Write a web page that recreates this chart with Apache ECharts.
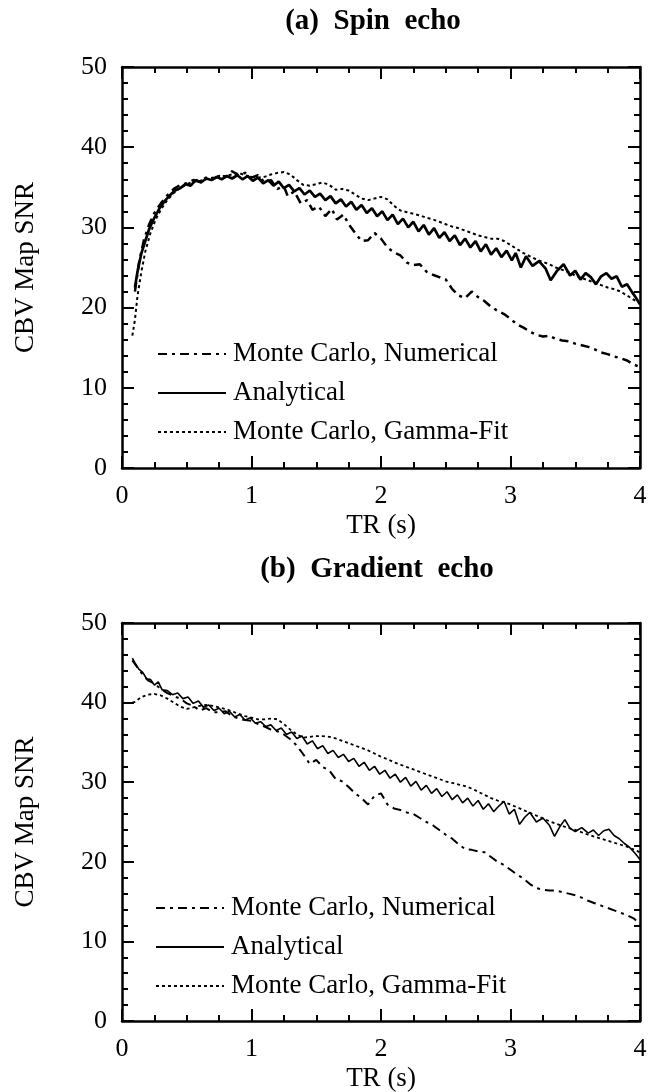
<!DOCTYPE html>
<html>
<head>
<meta charset="utf-8">
<title>CBV Map SNR vs TR</title>
<script src="https://cdn.jsdelivr.net/npm/echarts@6/dist/echarts.min.js"></script>
<style>
  html, body { margin: 0; padding: 0; background: #fff; }
  #chart { width: 650px; height: 1092px; }
</style>
</head>
<body>
<div id="chart"></div>
<script>
// panel titles and legend labels
var panelTitles = ['(a)  Spin  echo', '(b)  Gradient  echo'];
var seriesLabels = ['Monte Carlo, Numerical', 'Analytical', 'Monte Carlo, Gamma-Fit'];
var xTicks = [0, 1, 2, 3, 4];
var yTicks = [0, 10, 20, 30, 40, 50];

// (a) spin echo  [TR (s), SNR]
var spinNumerical = [[0.1,22.0],[0.13,25.5],[0.17,28.5],[0.21,30.4],[0.25,31.8],[0.3,33.0],[0.35,34.0],[0.4,34.8],[0.45,35.3],[0.5,35.5],[0.55,35.9],[0.6,35.7],[0.65,36.2],[0.7,36.0],[0.75,36.4],[0.8,36.3],[0.85,37.0],[0.9,36.5],[0.95,36.8],[1.0,36.2],[1.05,36.5],[1.1,35.6],[1.15,35.9],[1.2,34.8],[1.25,35.1],[1.28,33.9],[1.33,34.5],[1.38,33.0],[1.43,33.4],[1.47,32.2],[1.52,32.6],[1.57,31.4],[1.62,32.3],[1.66,31.0],[1.71,31.6],[1.75,30.4],[1.8,29.3],[1.85,28.3],[1.9,28.4],[1.95,29.3],[2.0,28.6],[2.05,27.5],[2.1,26.9],[2.15,26.5],[2.2,25.6],[2.25,25.3],[2.3,25.4],[2.35,24.5],[2.4,24.1],[2.45,23.8],[2.5,23.5],[2.55,22.3],[2.6,21.5],[2.65,21.2],[2.7,22.0],[2.75,21.3],[2.8,20.8],[2.85,20.1],[2.9,19.6],[2.95,19.2],[3.0,18.6],[3.05,17.9],[3.1,17.5],[3.15,17.0],[3.2,16.6],[3.25,16.4],[3.3,16.5],[3.35,16.1],[3.4,15.9],[3.45,15.8],[3.5,15.5],[3.55,15.3],[3.6,15.1],[3.65,14.8],[3.7,14.4],[3.75,14.2],[3.8,13.9],[3.85,13.7],[3.9,13.4],[3.95,12.9],[4.0,12.6]];
var spinAnalytical = [[0.1,22.5],[0.12,24.5],[0.15,26.8],[0.18,28.3],[0.21,29.8],[0.25,31.2],[0.29,32.4],[0.33,33.3],[0.37,34.0],[0.41,34.6],[0.45,34.9],[0.49,35.4],[0.53,35.2],[0.57,35.9],[0.61,35.6],[0.65,36.1],[0.69,35.9],[0.73,36.3],[0.77,36.0],[0.81,36.4],[0.85,36.1],[0.89,36.5],[0.93,36.0],[0.97,36.4],[1.01,35.8],[1.05,36.2],[1.09,35.5],[1.13,35.9],[1.17,35.2],[1.21,35.7],[1.25,34.9],[1.29,35.3],[1.33,34.5],[1.37,34.9],[1.41,34.1],[1.45,34.6],[1.49,33.8],[1.53,34.2],[1.57,33.4],[1.61,33.9],[1.65,33.0],[1.69,33.5],[1.73,32.6],[1.77,33.2],[1.81,32.2],[1.85,32.8],[1.89,31.8],[1.93,32.4],[1.97,31.4],[2.01,32.0],[2.05,30.9],[2.09,31.6],[2.13,30.4],[2.17,31.1],[2.21,30.0],[2.25,30.7],[2.29,29.5],[2.33,30.3],[2.37,29.1],[2.41,29.9],[2.45,28.7],[2.49,29.4],[2.53,28.3],[2.57,29.0],[2.61,27.8],[2.65,28.6],[2.69,27.5],[2.73,28.3],[2.77,27.0],[2.81,27.9],[2.85,26.6],[2.89,27.4],[2.93,26.3],[2.97,27.1],[3.01,25.9],[3.04,26.8],[3.08,25.0],[3.12,26.4],[3.17,25.2],[3.22,25.8],[3.27,24.9],[3.31,23.4],[3.36,24.6],[3.41,25.4],[3.46,24.0],[3.5,24.6],[3.54,23.5],[3.58,24.3],[3.62,23.8],[3.66,22.9],[3.7,23.9],[3.74,24.3],[3.78,23.6],[3.82,23.9],[3.86,22.6],[3.9,22.9],[3.94,21.9],[3.97,21.2],[4.0,20.4]];
var spinGamma = [[0.08,16.5],[0.1,18.5],[0.12,21.5],[0.15,24.5],[0.18,27.0],[0.22,29.3],[0.26,31.0],[0.3,32.2],[0.35,33.4],[0.4,34.3],[0.45,34.9],[0.5,35.4],[0.55,35.7],[0.6,35.8],[0.65,36.0],[0.7,36.2],[0.75,36.4],[0.8,36.4],[0.85,36.6],[0.9,36.8],[0.95,36.5],[1.0,36.3],[1.05,36.2],[1.1,36.3],[1.15,36.6],[1.2,36.8],[1.25,36.9],[1.3,36.6],[1.35,35.9],[1.4,35.3],[1.45,35.2],[1.5,35.4],[1.55,35.6],[1.6,35.3],[1.65,34.7],[1.7,34.8],[1.75,34.6],[1.8,34.1],[1.85,33.6],[1.9,33.4],[1.95,33.6],[2.0,33.8],[2.05,33.5],[2.1,32.7],[2.15,32.1],[2.2,31.9],[2.25,31.7],[2.3,31.5],[2.35,31.2],[2.4,31.0],[2.45,30.7],[2.5,30.4],[2.55,30.1],[2.6,29.9],[2.65,29.6],[2.7,29.3],[2.75,29.0],[2.8,28.8],[2.85,28.6],[2.9,28.6],[2.95,28.3],[3.0,27.8],[3.05,27.3],[3.1,26.8],[3.15,26.4],[3.2,26.0],[3.25,25.7],[3.3,25.4],[3.35,25.0],[3.4,24.7],[3.45,24.4],[3.5,24.0],[3.55,23.7],[3.6,23.4],[3.65,23.1],[3.7,22.8],[3.75,22.5],[3.8,22.3],[3.85,22.0],[3.9,21.5],[3.95,21.0],[4.0,20.6]];

// (b) gradient echo  [TR (s), SNR]
var gradNumerical = [[0.08,45.3],[0.12,44.4],[0.16,43.5],[0.2,42.8],[0.25,42.4],[0.3,41.7],[0.35,41.2],[0.4,40.8],[0.45,40.5],[0.5,39.9],[0.55,39.6],[0.6,39.0],[0.65,39.3],[0.7,38.8],[0.75,38.8],[0.8,38.9],[0.85,38.3],[0.9,38.0],[0.95,37.8],[1.0,37.7],[1.05,37.3],[1.1,37.0],[1.15,36.6],[1.2,36.4],[1.25,36.0],[1.3,35.4],[1.35,34.6],[1.4,33.5],[1.45,32.3],[1.5,32.8],[1.55,31.9],[1.6,31.5],[1.65,30.4],[1.7,30.1],[1.75,29.4],[1.8,28.6],[1.85,28.0],[1.9,27.2],[1.95,28.3],[2.0,28.6],[2.05,27.2],[2.1,26.7],[2.15,26.5],[2.2,26.2],[2.25,26.0],[2.3,25.5],[2.35,25.0],[2.4,24.6],[2.45,24.0],[2.5,23.4],[2.55,22.9],[2.6,22.2],[2.65,21.6],[2.7,21.5],[2.75,21.3],[2.8,21.2],[2.85,20.6],[2.9,20.0],[2.95,19.6],[3.0,19.0],[3.05,18.4],[3.1,17.9],[3.15,17.2],[3.2,16.7],[3.25,16.5],[3.3,16.4],[3.35,16.4],[3.4,16.2],[3.45,16.0],[3.5,15.8],[3.55,15.5],[3.6,15.1],[3.65,14.8],[3.7,14.5],[3.75,14.2],[3.8,13.9],[3.85,13.6],[3.9,13.3],[3.95,12.9],[4.0,12.2]];
var gradAnalytical = [[0.08,45.6],[0.1,45.0],[0.13,44.2],[0.16,43.8],[0.19,43.0],[0.22,42.9],[0.25,42.2],[0.28,42.6],[0.31,41.6],[0.35,41.5],[0.39,41.0],[0.43,41.2],[0.47,40.5],[0.51,40.7],[0.55,39.9],[0.59,40.2],[0.63,39.4],[0.67,39.7],[0.71,39.0],[0.75,39.3],[0.79,38.6],[0.83,38.9],[0.87,38.2],[0.91,38.5],[0.95,37.8],[0.99,38.1],[1.03,37.4],[1.07,37.6],[1.11,37.0],[1.15,37.2],[1.19,36.5],[1.23,36.8],[1.27,36.0],[1.31,36.3],[1.35,35.5],[1.39,35.8],[1.43,34.8],[1.47,35.2],[1.51,34.2],[1.55,34.6],[1.59,33.6],[1.63,34.0],[1.67,33.1],[1.71,33.5],[1.75,32.6],[1.79,33.0],[1.83,32.0],[1.87,32.5],[1.91,31.5],[1.95,32.0],[1.99,31.0],[2.03,31.5],[2.07,30.5],[2.11,31.0],[2.15,30.0],[2.19,30.6],[2.23,29.5],[2.27,30.1],[2.31,29.0],[2.35,29.6],[2.39,28.6],[2.43,29.2],[2.47,28.2],[2.51,28.8],[2.55,27.8],[2.59,28.4],[2.63,27.4],[2.67,28.0],[2.71,27.0],[2.75,27.7],[2.79,26.6],[2.83,27.3],[2.87,26.3],[2.91,27.0],[2.95,27.6],[2.99,26.0],[3.03,26.6],[3.07,24.7],[3.11,25.6],[3.15,26.2],[3.2,25.0],[3.25,25.5],[3.3,24.6],[3.34,23.2],[3.38,24.4],[3.42,25.3],[3.46,24.2],[3.5,23.8],[3.55,24.3],[3.6,23.6],[3.64,24.0],[3.68,23.3],[3.72,23.9],[3.76,24.1],[3.8,23.3],[3.84,22.9],[3.88,22.3],[3.92,21.8],[3.96,21.1],[4.0,20.3]];
var gradGamma = [[0.08,40.0],[0.1,40.1],[0.15,40.7],[0.2,41.0],[0.25,41.1],[0.3,40.9],[0.35,40.5],[0.4,40.0],[0.45,39.5],[0.5,39.2],[0.55,39.4],[0.6,39.6],[0.65,39.7],[0.7,39.6],[0.75,39.4],[0.8,39.2],[0.85,38.9],[0.9,38.6],[0.95,38.3],[1.0,38.1],[1.05,37.9],[1.1,37.9],[1.15,38.0],[1.2,37.9],[1.25,37.3],[1.3,36.6],[1.35,36.0],[1.4,35.6],[1.45,35.7],[1.5,35.8],[1.55,35.8],[1.6,35.7],[1.65,35.5],[1.7,35.2],[1.75,34.9],[1.8,34.6],[1.85,34.3],[1.9,34.0],[1.95,33.6],[2.0,33.2],[2.05,32.9],[2.1,32.5],[2.15,32.2],[2.2,31.9],[2.25,31.6],[2.3,31.3],[2.35,31.0],[2.4,30.7],[2.45,30.4],[2.5,30.1],[2.55,29.9],[2.6,29.7],[2.65,29.5],[2.7,29.2],[2.75,28.8],[2.8,28.4],[2.85,28.0],[2.9,27.7],[2.95,27.5],[3.0,27.2],[3.1,26.5],[3.2,25.8],[3.3,25.1],[3.4,24.5],[3.5,24.0],[3.6,23.4],[3.7,22.9],[3.8,22.4],[3.9,21.9],[4.0,21.2]];

var FONT = '"Liberation Serif", "Times New Roman", serif';
var myChart = echarts.init(document.getElementById('chart'), null, { renderer: 'canvas' });

var grids = [
    { left: 122, right: 10, top: 67, height: 401, outerBoundsMode: 'none', containLabel: false },
    { left: 122, right: 10, top: 623, height: 398, outerBoundsMode: 'none', containLabel: false }
];

var black = '#000';
function tickStyles(split) {
    return {
        axisTick: { show: true, inside: true, length: 12, lineStyle: { color: black, width: 2 } },
        minorTick: { show: true, splitNumber: split, length: 6, lineStyle: { color: black, width: 2 } }
    };
}

function xAxisFor(g, isTop) {
    var t = tickStyles(4);
    return {
        type: 'value', gridIndex: g, position: isTop ? 'top' : 'bottom',
        min: xTicks[0], max: xTicks[xTicks.length - 1], interval: 1,
        name: isTop ? '' : 'TR (s)', nameLocation: 'middle', nameGap: 44,
        nameTextStyle: { color: black, fontFamily: FONT, fontSize: 27 },
        axisLine: { show: true, onZero: false, lineStyle: { color: black, width: 2.5 } },
        axisTick: t.axisTick, minorTick: t.minorTick,
        axisLabel: { show: !isTop, color: black, fontFamily: FONT, fontSize: 26, margin: 15 },
        splitLine: { show: false }, minorSplitLine: { show: false }
    };
}
function yAxisFor(g, isRight) {
    var t = tickStyles(5);
    return {
        type: 'value', gridIndex: g, position: isRight ? 'right' : 'left',
        min: yTicks[0], max: yTicks[yTicks.length - 1], interval: 10,
        name: isRight ? '' : 'CBV Map SNR', nameLocation: 'middle', nameGap: 83,
        nameTextStyle: { color: black, fontFamily: FONT, fontSize: 27 },
        axisLine: { show: true, onZero: false, lineStyle: { color: black, width: 2.5 } },
        axisTick: t.axisTick, minorTick: t.minorTick,
        axisLabel: { show: !isRight, color: black, fontFamily: FONT, fontSize: 26, margin: 15 },
        splitLine: { show: false }, minorSplitLine: { show: false }
    };
}

function makeSeries(prefix, g, data, kind, thin) {
    var styles = {
        num: { type: [9, 5, 3, 5], width: thin ? 2 : 2.5 },
        ana: { type: 'solid', width: thin ? 1.6 : 2.7 },
        gam: { type: [3, 3], width: thin ? 1.8 : 2 }
    };
    var label = { num: seriesLabels[0], ana: seriesLabels[1], gam: seriesLabels[2] }[kind];
    return {
        name: prefix + label, type: 'line', xAxisIndex: g * 2, yAxisIndex: g * 2,
        data: data, symbol: 'none', showSymbol: false, smooth: false,
        lineStyle: { color: black, width: styles[kind].width, type: styles[kind].type },
        itemStyle: { color: black }, z: 3
    };
}

function makeLegend(prefix, top, left) {
    return {
        orient: 'vertical', left: left, top: top, itemWidth: 68, itemHeight: 12, itemGap: 9,
        selectedMode: false,
        data: seriesLabels.map(function (s) { return prefix + s; }),
        formatter: function (name) { return name.slice(prefix.length); },
        // hide the round marker that line series put on their legend icon
        itemStyle: { color: 'rgba(0,0,0,0)', borderColor: 'rgba(0,0,0,0)', borderWidth: 0, opacity: 0 },
        textStyle: { color: black, fontFamily: FONT, fontSize: 27, lineHeight: 30, padding: [0, 0, 0, 2] }
    };
}

var option = {
    animation: false,
    backgroundColor: '#fff',
    title: [
        { text: panelTitles[0], left: 368, top: 2, textAlign: 'center',
          textStyle: { color: black, fontFamily: FONT, fontSize: 29, fontWeight: 'bold' } },
        { text: panelTitles[1], left: 372, top: 550, textAlign: 'center',
          textStyle: { color: black, fontFamily: FONT, fontSize: 29, fontWeight: 'bold' } }
    ],
    grid: grids,
    xAxis: [xAxisFor(0, false), xAxisFor(0, true), xAxisFor(1, false), xAxisFor(1, true)],
    yAxis: [yAxisFor(0, false), yAxisFor(0, true), yAxisFor(1, false), yAxisFor(1, true)],
    legend: [makeLegend('a:', 334, 152), makeLegend('b:', 888, 150)],
    series: [
        makeSeries('a:', 0, spinNumerical, 'num', false),
        makeSeries('a:', 0, spinAnalytical, 'ana', false),
        makeSeries('a:', 0, spinGamma, 'gam', false),
        makeSeries('b:', 1, gradNumerical, 'num', true),
        makeSeries('b:', 1, gradAnalytical, 'ana', true),
        makeSeries('b:', 1, gradGamma, 'gam', true)
    ]
};
myChart.setOption(option, true);
</script>
</body>
</html>
